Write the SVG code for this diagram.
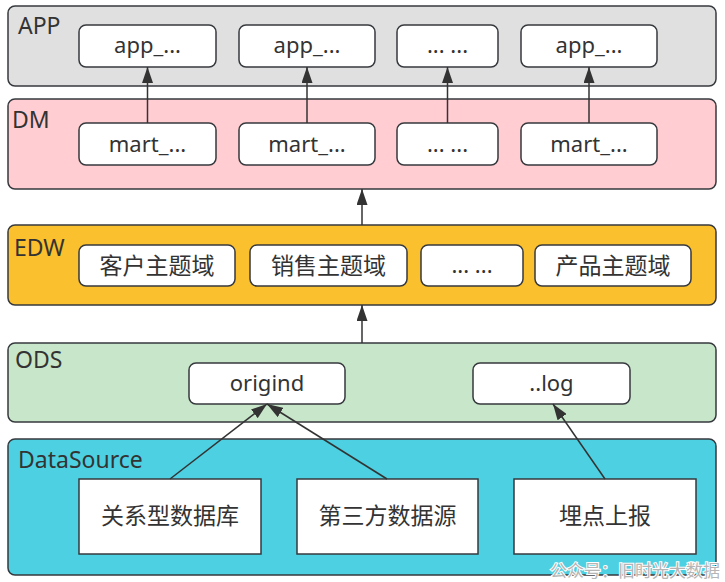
<svg xmlns="http://www.w3.org/2000/svg" width="725" height="582" viewBox="0 0 725 582">
<style>
.layer{stroke:#36393d;stroke-width:1.5}
.box{fill:#ffffff;stroke:#36393d;stroke-width:1.5}
.lbl{font-family:"Noto Sans","Noto Sans CJK SC",sans-serif;font-size:23px;fill:#333333}
.t{font-family:"Noto Sans","Noto Sans CJK SC",sans-serif;font-size:22px;fill:#333333;text-anchor:middle}
.c{font-family:"Noto Sans CJK SC",sans-serif;font-size:23px;fill:#333333;text-anchor:middle}
.edge{stroke:#333333;stroke-width:1.5;fill:none;marker-end:url(#ah)}
.wm{font-family:"Noto Sans CJK SC",sans-serif;font-size:17px;fill:#b5b5b5;stroke:#ffffff;stroke-width:2;paint-order:stroke}
</style>
<defs>
<marker id="ah" viewBox="0 0 16 11" markerWidth="16" markerHeight="11" refX="16" refY="5.5" orient="auto" markerUnits="userSpaceOnUse">
<path d="M0,0 L16,5.5 L0,11 z" fill="#333333"/>
</marker>
</defs>
<rect width="725" height="582" fill="#ffffff"/>

<g id="layer-app">
<rect class="layer" x="8" y="6" width="708" height="80" rx="7" fill="#e0e0e0"/>
<text class="lbl" x="18" y="34">APP</text>
</g>
<g id="layer-dm">
<rect class="layer" x="8" y="99" width="708" height="90" rx="7" fill="#ffcdd2"/>
<text class="lbl" x="12" y="128">DM</text>
</g>
<g id="layer-edw">
<rect class="layer" x="8" y="225" width="708" height="80" rx="7" fill="#fbc02d"/>
<text class="lbl" x="14" y="256">EDW</text>
</g>
<g id="layer-ods">
<rect class="layer" x="8" y="343" width="708" height="79" rx="7" fill="#c8e6c9"/>
<text class="lbl" x="15" y="368">ODS</text>
</g>
<g id="layer-ds">
<rect class="layer" x="8" y="439" width="708" height="136" rx="7" fill="#4dd0e1"/>
<text class="lbl" x="18" y="468">DataSource</text>
</g>

<g id="app1"><rect class="box" x="79" y="25" width="137" height="42" rx="7"/><text class="t" x="147.5" y="53">app_...</text></g>
<g id="app2"><rect class="box" x="239" y="25" width="136" height="42" rx="7"/><text class="t" x="307" y="53">app_...</text></g>
<g id="app3"><rect class="box" x="397" y="25" width="101" height="42" rx="7"/><text class="t" x="447.5" y="53">... ...</text></g>
<g id="app4"><rect class="box" x="521" y="25" width="136" height="42" rx="7"/><text class="t" x="589" y="53">app_...</text></g>

<g id="mart1"><rect class="box" x="79" y="123" width="137" height="42" rx="7"/><text class="t" x="147.5" y="152">mart_...</text></g>
<g id="mart2"><rect class="box" x="239" y="123" width="136" height="42" rx="7"/><text class="t" x="307" y="152">mart_...</text></g>
<g id="mart3"><rect class="box" x="397" y="123" width="101" height="42" rx="7"/><text class="t" x="447.5" y="152">... ...</text></g>
<g id="mart4"><rect class="box" x="521" y="123" width="136" height="42" rx="7"/><text class="t" x="589" y="152">mart_...</text></g>

<g id="edw1"><rect class="box" x="79" y="245" width="156" height="41" rx="7"/><text class="c" x="157" y="274">客户主题域</text></g>
<g id="edw2"><rect class="box" x="250" y="245" width="157" height="41" rx="7"/><text class="c" x="328.5" y="274">销售主题域</text></g>
<g id="edw3"><rect class="box" x="421" y="245" width="102" height="41" rx="7"/><text class="t" x="472" y="273">... ...</text></g>
<g id="edw4"><rect class="box" x="535" y="245" width="156" height="41" rx="7"/><text class="c" x="613" y="274">产品主题域</text></g>

<g id="ods1"><rect class="box" x="189" y="363" width="156" height="41" rx="7"/><text class="t" x="267" y="391">origind</text></g>
<g id="ods2"><rect class="box" x="473" y="363" width="157" height="41" rx="7"/><text class="t" x="551.5" y="391">..log</text></g>

<g id="ds1"><rect class="box" x="79" y="479" width="182" height="75"/><text class="c" x="170" y="524">关系型数据库</text></g>
<g id="ds2"><rect class="box" x="297" y="479" width="181" height="75"/><text class="c" x="387.5" y="524">第三方数据源</text></g>
<g id="ds3"><rect class="box" x="514" y="479" width="182" height="75"/><text class="c" x="605" y="524">埋点上报</text></g>

<g id="connectors">
<line class="edge" x1="147.5" y1="123" x2="147.5" y2="67"/>
<line class="edge" x1="307" y1="123" x2="307" y2="67"/>
<line class="edge" x1="447.5" y1="123" x2="447.5" y2="67"/>
<line class="edge" x1="589" y1="123" x2="589" y2="67"/>
<line class="edge" x1="362" y1="225" x2="362" y2="189"/>
<line class="edge" x1="362" y1="343" x2="362" y2="305"/>
<line class="edge" x1="170" y1="479" x2="267" y2="404"/>
<line class="edge" x1="387" y1="479" x2="267" y2="404"/>
<line class="edge" x1="605" y1="479" x2="553" y2="404"/>
</g>

<text class="wm" x="550" y="577">公众号：旧时光大数据</text>
</svg>
